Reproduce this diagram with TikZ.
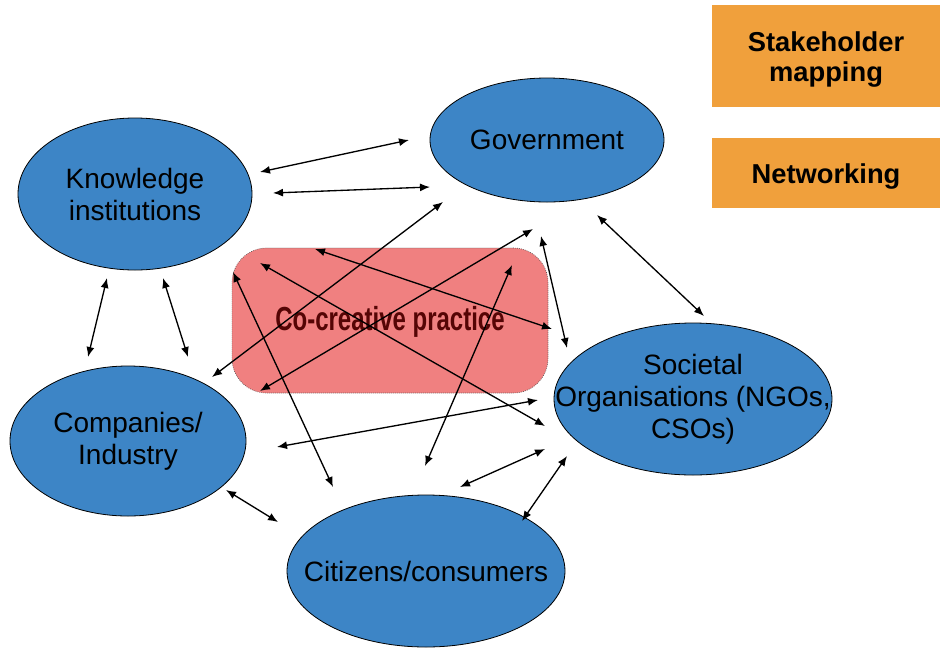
\documentclass[tikz,border=0pt]{standalone}
\usepackage{fontspec}
\setmainfont{Liberation Sans}
\usepackage {tikz}
\usetikzlibrary {positioning}
\usetikzlibrary{arrows,arrows.meta}
\usetikzlibrary{shapes.geometric}
\definecolor{partyblue}{RGB}{61,133,198}
\definecolor{toolorange}{RGB}{240,160,60}
\definecolor{practicered}{RGB}{240,128,128}
\definecolor{practicetext}{RGB}{85,5,5}
\tikzset{edge/.style = {<->,> = {Latex[length=7.5pt,width=6pt]}}}

\begin{document}
\begin{tikzpicture}[x=0.75pt,y=-0.75pt,line width=1pt,
    party node/.style={ellipse,draw,line width=0.6pt,fill=partyblue,inner sep=0pt},
    party text/.style={align=center,font=\fontsize{21}{24}\selectfont},
    tool node/.style={rectangle,fill=toolorange,inner sep=0pt,minimum width=171pt},
    tool text/.style={align=center,yshift=-2.5pt,font=\fontsize{20.5}{22.5}\selectfont\bfseries}]
    \useasboundingbox (0,0) rectangle (940,647);
            % the five stakeholders
            \node[party node,minimum width=175.5pt,minimum height=114pt,label={[party text]center:Knowledge\\institutions}] (know) at (135,194) {};
            \node[party node,minimum width=175.5pt,minimum height=93pt,label={[party text]center:Government}] (gov) at (547,140) {};
            \node[party node,minimum width=208.5pt,minimum height=114pt,label={[party text]center:Societal\\Organisations (NGOs,\\CSOs)}] (soc) at (693,399) {};
            \node[party node,minimum width=177pt,minimum height=112.5pt,label={[party text]center:Companies/\\Industry}] (comp) at (128,441) {};
            \node[party node,minimum width=208.5pt,minimum height=114pt,label={[party text]center:Citizens/consumers}] (cit) at (426,571) {};
            % practice in the middle
            \node[rectangle,rounded corners=26pt,fill=practicered,draw=black!70,densely dotted,line width=0.5pt,minimum width=237pt,minimum height=108.75pt] (prac) at (390,320.5) {};
            \node[text=practicetext,font=\fontsize{25}{27}\selectfont\bfseries] (praclabel) at (390,322) {\scalebox{0.72}[1]{Co-creative practice}};
            % tools
            \node[tool node,minimum height=76.5pt,label={[tool text]center:Stakeholder\\mapping}] (map) at (826,56) {};
            \node[tool node,minimum height=52.5pt,label={[tool text]center:Networking}] (net) at (826,173) {};
            % arrow ends
            \coordinate (kg1) at (260,172); \coordinate (gk1) at (409,140);
            \coordinate (kg2) at (273,193); \coordinate (gk2) at (430,187);
            \coordinate (kc1) at (107,278); \coordinate (ck1) at (88,357);
            \coordinate (kc2) at (163,278); \coordinate (ck2) at (188,357);
            \coordinate (cg1) at (212,377); \coordinate (gc1) at (443,202);
            \coordinate (cg2) at (260,391); \coordinate (gc2) at (533,229);
            \coordinate (ks1) at (315,249); \coordinate (sk1) at (552,329);
            \coordinate (ks2) at (260,263); \coordinate (sk2) at (545,426);
            \coordinate (kz1) at (233,272); \coordinate (zk1) at (333,487);
            \coordinate (zg1) at (425,466); \coordinate (gz1) at (512,265);
            \coordinate (gs1) at (541,236); \coordinate (sg1) at (567,348);
            \coordinate (gs2) at (597,215); \coordinate (sg2) at (704,316);
            \coordinate (cs1) at (277,447); \coordinate (sc1) at (538,400);
            \coordinate (zs1) at (460,487); \coordinate (sz1) at (545,449);
            \coordinate (zs2) at (522,521); \coordinate (sz2) at (567,456);
            \coordinate (cz1) at (226,490); \coordinate (zc1) at (278,522);
            % links
            \path[edge] (kg1) edge (gk1);
            \path[edge] (kg2) edge (gk2);
            \path[edge] (kc1) edge (ck1);
            \path[edge] (kc2) edge (ck2);
            \path[edge] (cg1) edge (gc1);
            \path[edge] (cg2) edge (gc2);
            \path[edge] (ks1) edge (sk1);
            \path[edge] (ks2) edge (sk2);
            \path[edge] (kz1) edge (zk1);
            \path[edge] (zg1) edge (gz1);
            \path[edge] (gs1) edge (sg1);
            \path[edge] (gs2) edge (sg2);
            \path[edge] (cs1) edge (sc1);
            \path[edge] (zs1) edge (sz1);
            \path[edge] (zs2) edge (sz2);
            \path[edge] (cz1) edge (zc1);
        \end{tikzpicture}
\end{document}
